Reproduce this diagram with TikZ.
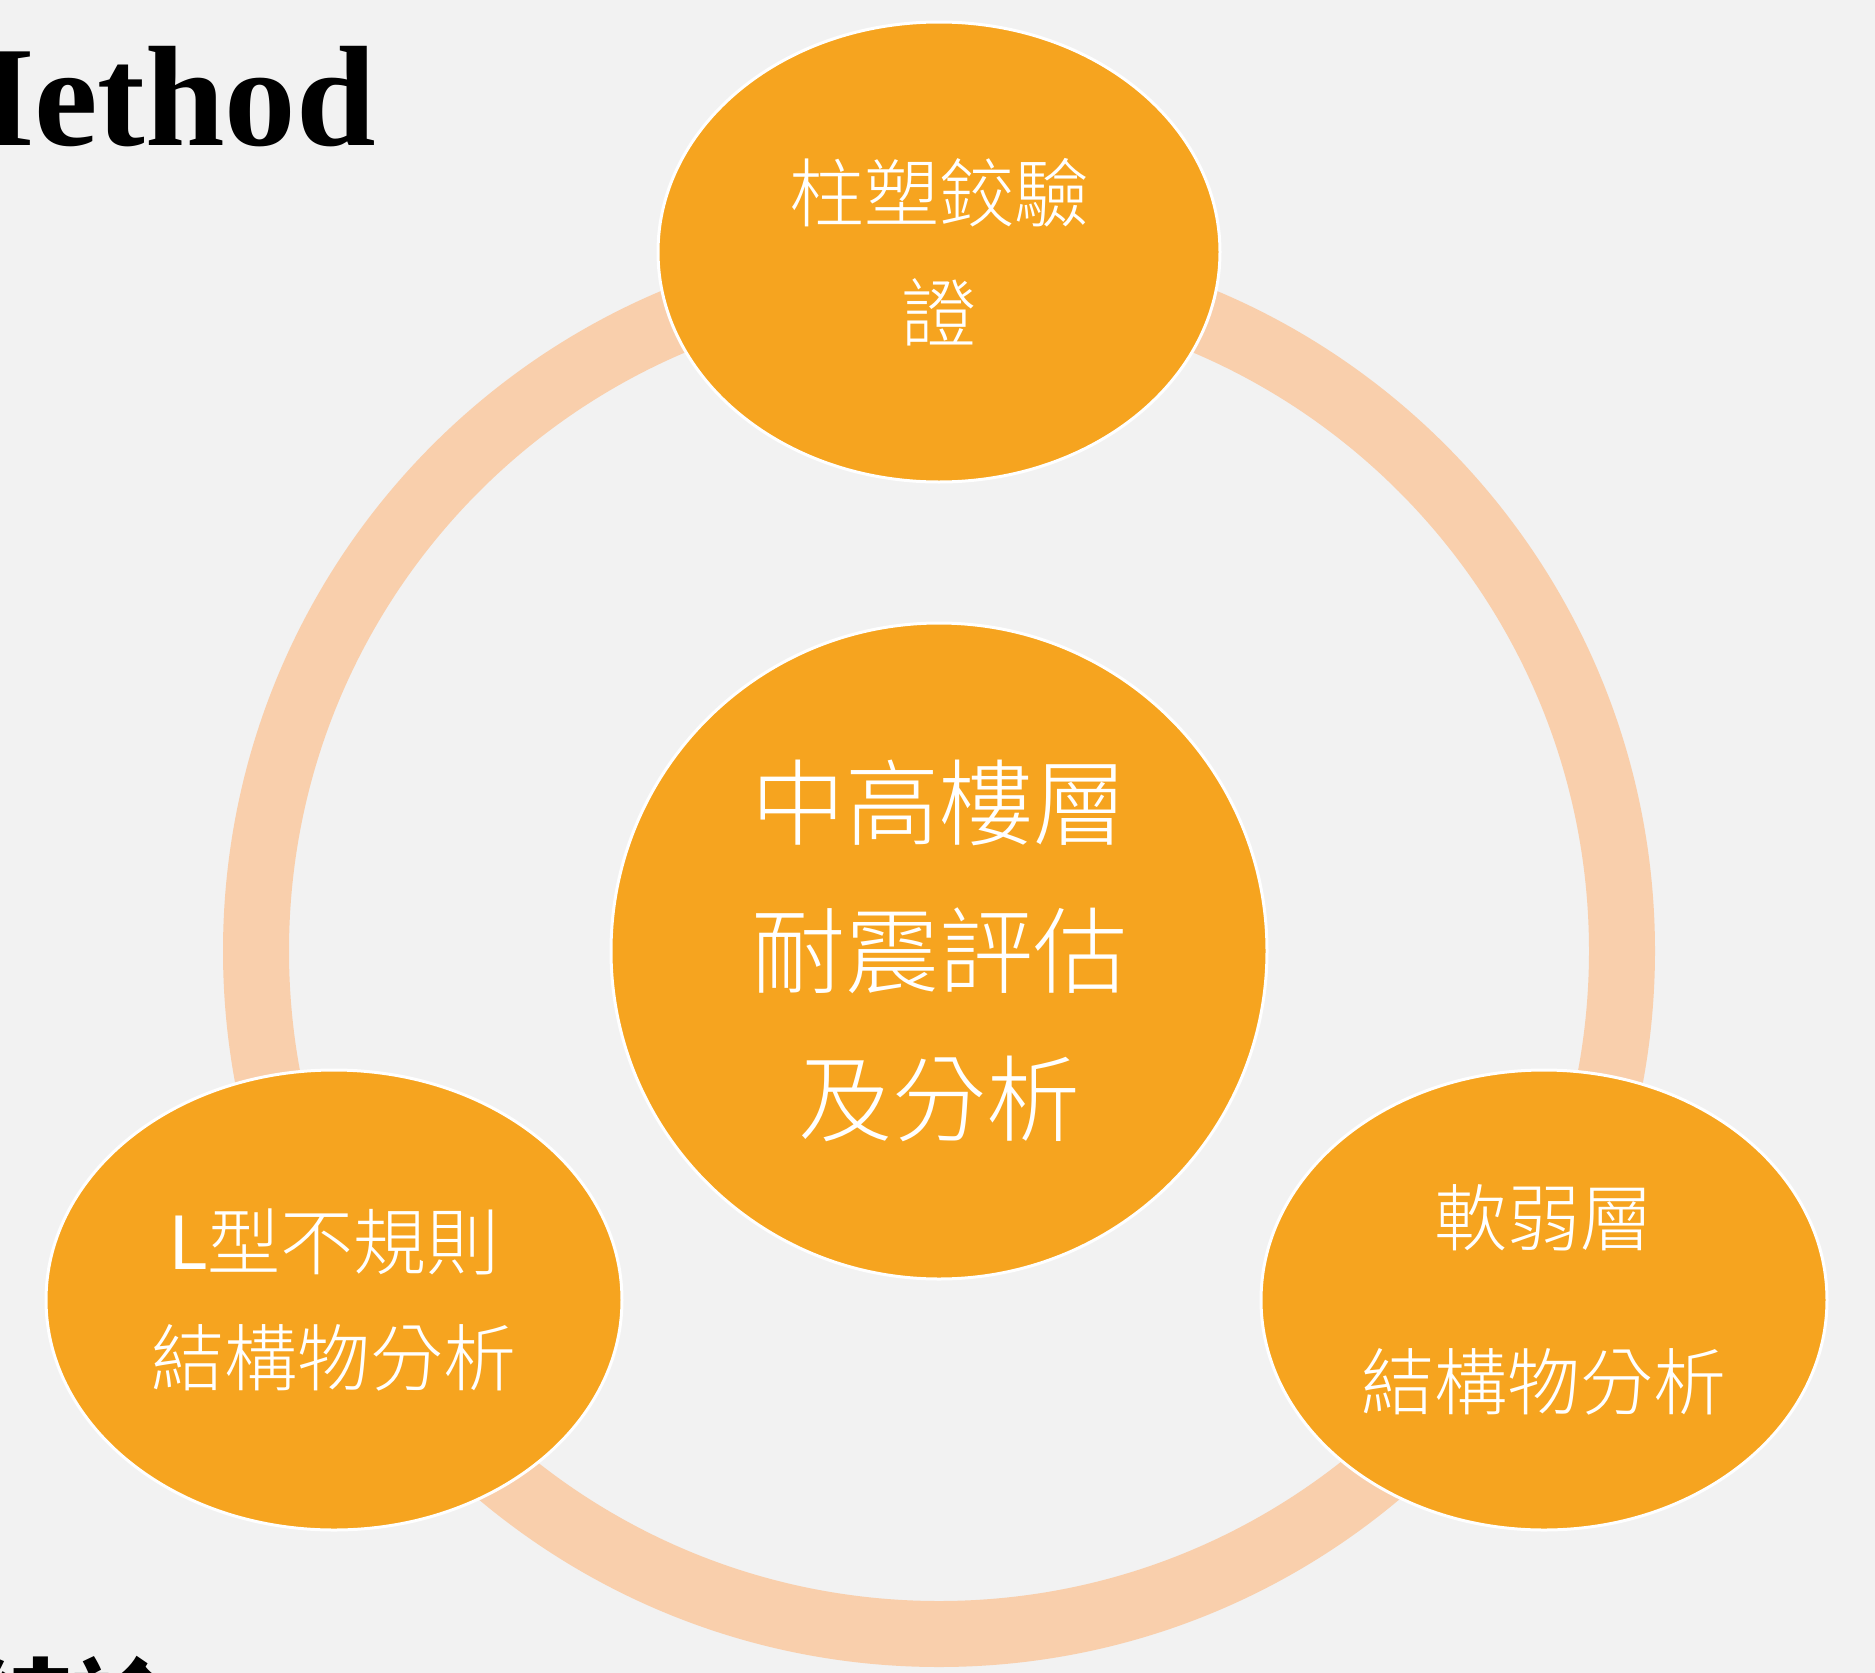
\documentclass[tikz,border=0pt]{standalone}
\usepackage{fontspec}
\setmainfont{Liberation Serif}
\newfontfamily\cjk{Noto Sans CJK TC}[UprightFont={* Light},BoldFont={* Bold}]
\newfontfamily\cjkbold{Noto Sans CJK TC}
\usetikzlibrary{shapes.geometric}
\definecolor{bg}{HTML}{F2F2F2}
\definecolor{orng}{HTML}{F6A41F}
\definecolor{ringc}{HTML}{F9CFAC}
\tikzset{
  blob/.style={ellipse, fill=orng, draw=white, line width=3pt, text=white, align=center, inner sep=0pt},
  ringline/.style={draw=ringc, line width=66pt},
}
\begin{document}
\begin{tikzpicture}[x=1pt,y=-1pt]
\useasboundingbox (0,0) rectangle (1875,1673);
\fill[bg] (0,0) rectangle (1875,1673);
\clip (0,0) rectangle (1875,1673);
% title fragments
\node[anchor=base west, inner sep=0pt, font=\fontsize{143}{150}\selectfont\bfseries] (title) at (-101,145) {Method};
\node[anchor=base west, inner sep=0pt, font=\cjkbold\fontsize{100}{100}\selectfont\bfseries] (concl) at (-28,1742) {結論};
% ring
\draw[ringline] (939,951) circle (683);
% centre
\node[blob, circle, minimum size=656pt, font=\cjk\fontsize{94}{148}\selectfont] (center) at (939,951) {中高樓層\\耐震評估\\及分析};
% satellites
\node[blob, minimum width=562pt, minimum height=460pt, font=\cjk\fontsize{75}{120}\selectfont] (top) at (939,252) {柱塑鉸驗\\證};
\node[blob, minimum width=576pt, minimum height=460pt, font=\cjk\fontsize{73}{116}\selectfont] (left) at (334,1300) {{\cjkbold L}型不規則\\結構物分析};
\node[blob, minimum width=566pt, minimum height=460pt, font=\cjk\fontsize{73}{164}\selectfont] (right) at (1544,1300) {軟弱層\\結構物分析};
\end{tikzpicture}
\end{document}
